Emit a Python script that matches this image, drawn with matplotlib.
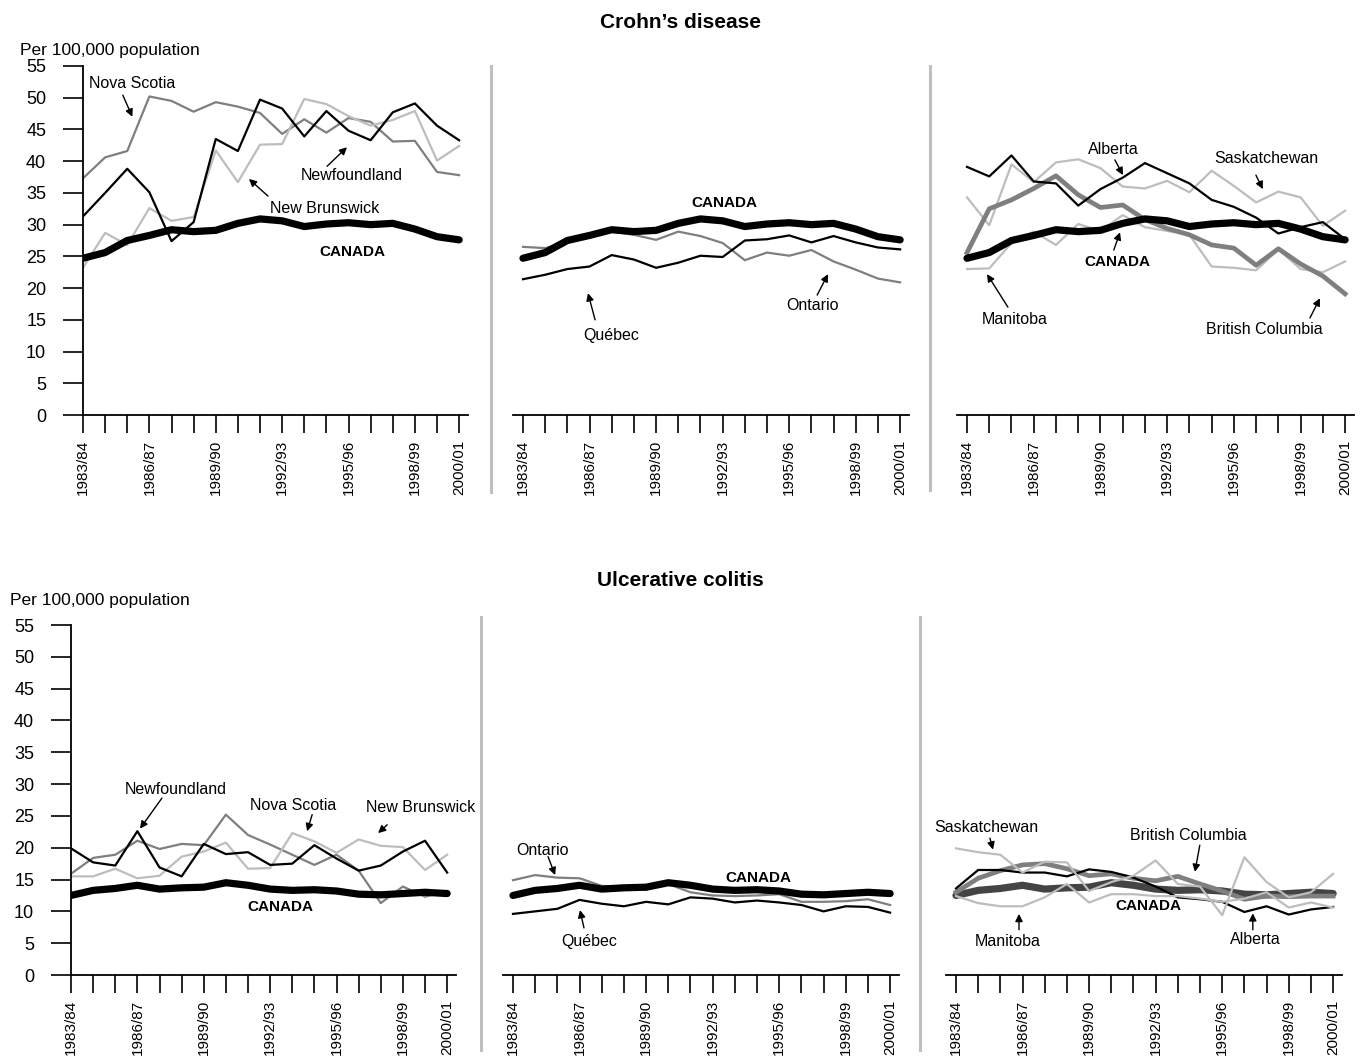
import matplotlib
matplotlib.use('Agg')
import matplotlib.pyplot as plt
from matplotlib.lines import Line2D

plt.rcParams['font.family'] = ['Liberation Sans Narrow', 'Liberation Sans', 'DejaVu Sans']

years = ['1983/84', '1984/85', '1985/86', '1986/87', '1987/88', '1988/89', '1989/90',
         '1990/91', '1991/92', '1992/93', '1993/94', '1994/95', '1995/96', '1996/97',
         '1997/98', '1998/99', '1999/00', '2000/01']
shown_years = ['1983/84', '1986/87', '1989/90', '1992/93', '1995/96', '1998/99', '2000/01']

# Crohn's disease, per 100,000
cd_canada = [24.7, 25.6, 27.5, 28.3, 29.2, 28.9, 29.1, 30.2, 30.9, 30.6, 29.7, 30.1,
             30.3, 30.0, 30.2, 29.3, 28.1, 27.6]
cd_newfoundland = [31.3, 35.0, 38.8, 35.1, 27.4, 30.4, 43.5, 41.6, 49.7, 48.3, 43.9, 47.9,
                   44.8, 43.3, 47.7, 49.1, 45.6, 43.3]
cd_nova_scotia = [37.3, 40.6, 41.6, 50.2, 49.5, 47.8, 49.3, 48.6, 47.6, 44.3, 46.6, 44.5,
                  46.8, 46.2, 43.1, 43.2, 38.3, 37.8]
cd_new_brunswick = [23.2, 28.7, 26.8, 32.6, 30.6, 31.2, 41.7, 36.7, 42.6, 42.7, 49.8, 49.0,
                    47.1, 45.6, 46.5, 47.9, 40.1, 42.4]
cd_ontario = [26.5, 26.3, 27.3, 28.2, 28.9, 28.4, 27.6, 28.9, 28.2, 27.1, 24.4, 25.6,
              25.1, 26.0, 24.2, 22.9, 21.5, 20.9]
cd_quebec = [21.4, 22.1, 23.0, 23.4, 25.2, 24.5, 23.2, 24.0, 25.1, 24.9, 27.5, 27.7,
             28.3, 27.2, 28.2, 27.2, 26.4, 26.1]
cd_alberta = [39.1, 37.6, 40.9, 36.8, 36.5, 33.0, 35.6, 37.4, 39.7, 38.1, 36.5, 33.9,
              32.8, 31.1, 28.6, 29.6, 30.4, 27.7]
cd_saskatchewan = [34.3, 29.9, 39.5, 36.7, 39.8, 40.3, 38.9, 36.0, 35.7, 36.9, 35.1, 38.5,
                   36.1, 33.5, 35.2, 34.3, 29.8, 32.2]
cd_bc = [25.6, 32.5, 33.9, 35.7, 37.7, 34.7, 32.7, 33.1, 30.8, 29.4, 28.4, 26.8,
         26.3, 23.6, 26.2, 23.8, 21.9, 19.1]
cd_manitoba = [23.0, 23.1, 27.1, 28.9, 26.8, 30.1, 29.0, 31.5, 29.6, 29.0, 28.4, 23.4,
               23.2, 22.8, 26.1, 23.0, 22.5, 24.2]

# Ulcerative colitis, per 100,000
uc_canada = [12.5, 13.3, 13.6, 14.1, 13.5, 13.7, 13.8, 14.5, 14.1, 13.5, 13.3, 13.4,
             13.2, 12.7, 12.6, 12.8, 13.0, 12.8]
uc_newfoundland = [19.9, 17.7, 17.2, 22.6, 16.9, 15.5, 20.6, 19.0, 19.3, 17.3, 17.5, 20.4,
                   18.3, 16.4, 17.2, 19.4, 21.1, 16.1]
uc_nova_scotia = [15.9, 18.4, 18.9, 21.1, 19.8, 20.6, 20.4, 25.2, 22.0, 20.5, 18.9, 17.3,
                  18.9, 16.4, 11.3, 13.9, 12.3, 13.2]
uc_new_brunswick = [15.5, 15.5, 16.7, 15.2, 15.6, 18.6, 19.4, 20.8, 16.7, 16.8, 22.3, 21.0,
                    19.2, 21.3, 20.3, 20.1, 16.5, 18.9]
uc_ontario = [14.9, 15.7, 15.3, 15.2, 14.0, 13.8, 13.4, 14.3, 13.0, 12.5, 12.4, 12.5,
              12.7, 11.5, 11.5, 11.6, 11.9, 11.0]
uc_quebec = [9.6, 10.0, 10.4, 11.8, 11.2, 10.8, 11.5, 11.1, 12.2, 12.0, 11.4, 11.7,
             11.4, 11.0, 10.0, 10.8, 10.7, 9.8]
uc_saskatchewan = [19.9, 19.3, 18.9, 16.1, 17.8, 17.7, 13.2, 14.6, 15.6, 18.0, 14.3, 13.9,
                   9.4, 18.5, 14.6, 12.2, 13.0, 15.9]
uc_manitoba = [12.4, 11.3, 10.8, 10.8, 12.2, 14.3, 11.4, 12.7, 12.7, 12.4, 12.4, 12.0,
               11.5, 12.0, 13.0, 10.6, 11.4, 10.6]
uc_bc = [13.0, 15.2, 16.4, 17.3, 17.5, 16.7, 15.6, 15.9, 15.2, 14.8, 15.5, 14.3,
         13.2, 11.9, 12.4, 12.3, 12.4, 12.4]
uc_alberta = [13.6, 16.5, 16.5, 16.1, 16.1, 15.5, 16.6, 16.2, 15.3, 13.9, 12.2, 11.9,
              11.5, 9.9, 10.8, 9.5, 10.3, 10.7]

BLACK = '#000000'
MID = '#7f7f7f'
LIGHT = '#bdbdbd'

W, H = 1366, 1063
fig = plt.figure(figsize=(W / 100, H / 100), dpi=100)


def px_axes(left, right, top, bottom):
    return fig.add_axes([left / W, 1 - bottom / H, (right - left) / W, (bottom - top) / H])


def setup(ax, x_lo, with_y):
    ax.set_xlim(x_lo, 17.4)
    ax.set_ylim(0, 55)
    ax.patch.set_alpha(0)
    for s in ['top', 'right']:
        ax.spines[s].set_visible(False)
    ax.spines['bottom'].set_linewidth(1.3)
    ax.set_xticks(range(len(years)))
    ax.set_xticklabels([y if y in shown_years else '' for y in years],
                       rotation=90, fontsize=11)
    ax.tick_params(axis='x', direction='out', length=13, width=1.2, pad=5)
    if with_y:
        ax.spines['left'].set_linewidth(1.3)
        ax.set_yticks(range(0, 56, 5))
        ax.tick_params(axis='y', direction='out', length=14.5, width=1.2, pad=12,
                       labelsize=13)
    else:
        ax.spines['left'].set_visible(False)
        ax.set_yticks([])


def arrow(ax, tail, head):
    ax.annotate('', xy=head, xytext=tail, annotation_clip=False,
                arrowprops=dict(arrowstyle='-|>', color='black', lw=1.0,
                                mutation_scale=11, shrinkA=0, shrinkB=0))


def label(ax, x, y, s, bold=False):
    ax.text(x, y, s, ha='center', va='center', fontsize=11 if bold else 11.5,
            fontweight='bold' if bold else 'normal', clip_on=False)


x = list(range(len(years)))
thin = 1.6
canada_lw = 5.2

# ---- Crohn's disease row ----
top, bot = 66, 415
a1 = px_axes(83, 468, top, bot)
setup(a1, 0, True)
a1.plot(x, cd_nova_scotia, color=MID, lw=thin)
a1.plot(x, cd_new_brunswick, color=LIGHT, lw=thin)
a1.plot(x, cd_newfoundland, color=BLACK, lw=thin)
a1.plot(x, cd_canada, color=BLACK, lw=canada_lw, solid_capstyle='round')
label(a1, 2.2, 52.3, 'Nova Scotia')
arrow(a1, (1.8, 50.4), (2.23, 47.0))
label(a1, 12.16, 37.7, 'Newfoundland')
arrow(a1, (11.03, 39.2), (11.93, 42.2))
label(a1, 10.94, 32.6, 'New Brunswick')
arrow(a1, (8.36, 34.5), (7.5, 37.2))
label(a1, 12.16, 25.7, 'CANADA', bold=True)

a2 = px_axes(513, 909, top, bot)
setup(a2, -0.45, False)
a2.plot(x, cd_ontario, color=MID, lw=thin)
a2.plot(x, cd_quebec, color=BLACK, lw=thin)
a2.plot(x, cd_canada, color=BLACK, lw=canada_lw, solid_capstyle='round')
label(a2, 9.1, 33.4, 'CANADA', bold=True)
label(a2, 3.97, 12.6, 'Québec')
arrow(a2, (3.25, 15.0), (2.93, 19.2))
label(a2, 13.03, 17.3, 'Ontario')
arrow(a2, (13.26, 18.9), (13.75, 22.2))

a3 = px_axes(957, 1354, top, bot)
setup(a3, -0.45, False)
a3.plot(x, cd_saskatchewan, color=LIGHT, lw=thin)
a3.plot(x, cd_manitoba, color=LIGHT, lw=thin)
a3.plot(x, cd_bc, color=MID, lw=3.4)
a3.plot(x, cd_alberta, color=BLACK, lw=thin)
a3.plot(x, cd_canada, color=BLACK, lw=canada_lw, solid_capstyle='round')
label(a3, 6.56, 41.9, 'Alberta')
arrow(a3, (6.65, 40.2), (7.01, 37.8))
label(a3, 13.44, 40.5, 'Saskatchewan')
arrow(a3, (12.99, 37.8), (13.3, 35.6))
label(a3, 6.74, 24.1, 'CANADA', bold=True)
arrow(a3, (6.6, 26.0), (6.88, 28.8))
label(a3, 2.16, 15.1, 'Manitoba')
arrow(a3, (1.84, 17.0), (0.9, 22.2))
label(a3, 13.35, 13.4, 'British Columbia')
arrow(a3, (15.42, 15.3), (15.87, 18.4))

# ---- Ulcerative colitis row ----
top, bot = 625, 975
b1 = px_axes(71, 456, top, bot)
setup(b1, 0, True)
b1.plot(x, uc_nova_scotia, color=MID, lw=thin)
b1.plot(x, uc_new_brunswick, color=LIGHT, lw=thin)
b1.plot(x, uc_newfoundland, color=BLACK, lw=thin)
b1.plot(x, uc_canada, color=BLACK, lw=canada_lw, solid_capstyle='round')
label(b1, 4.75, 29.2, 'Newfoundland')
arrow(b1, (4.11, 27.8), (3.12, 23.0))
label(b1, 10.04, 26.6, 'Nova Scotia')
arrow(b1, (10.9, 25.2), (10.67, 22.6))
label(b1, 15.82, 26.3, 'New Brunswick')
arrow(b1, (14.29, 23.6), (13.88, 22.3))
label(b1, 9.45, 10.7, 'CANADA', bold=True)

b2 = px_axes(503, 899, top, bot)
setup(b2, -0.45, False)
b2.plot(x, uc_ontario, color=MID, lw=thin)
b2.plot(x, uc_quebec, color=BLACK, lw=thin)
b2.plot(x, uc_canada, color=BLACK, lw=canada_lw, solid_capstyle='round')
label(b2, 1.31, 19.5, 'Ontario')
arrow(b2, (1.58, 18.6), (1.9, 15.7))
label(b2, 11.06, 15.3, 'CANADA', bold=True)
label(b2, 3.43, 5.3, 'Québec')
arrow(b2, (3.2, 7.4), (3.02, 10.2))

b3 = px_axes(946, 1342, top, bot)
setup(b3, -0.45, False)
b3.plot(x, uc_canada, color='#444444', lw=canada_lw, solid_capstyle='round')
b3.plot(x, uc_bc, color=MID, lw=3.4)
b3.plot(x, uc_alberta, color=BLACK, lw=thin)
b3.plot(x, uc_saskatchewan, color=LIGHT, lw=thin)
b3.plot(x, uc_manitoba, color=LIGHT, lw=thin)
label(b3, 1.35, 23.1, 'Saskatchewan')
arrow(b3, (1.53, 21.5), (1.67, 19.7))
label(b3, 10.45, 22.0, 'British Columbia')
arrow(b3, (10.99, 20.4), (10.77, 16.2))
label(b3, 8.65, 10.8, 'CANADA', bold=True)
label(b3, 2.34, 5.3, 'Manitoba')
arrow(b3, (2.84, 7.1), (2.84, 9.6))
label(b3, 13.51, 5.5, 'Alberta')
arrow(b3, (13.38, 7.1), (13.38, 9.7))

# titles and axis captions
fig.text(680 / W, 1 - 22 / H, 'Crohn\u2019s disease', ha='center', va='center',
         fontsize=15, fontweight='bold')
fig.text(680 / W, 1 - 580 / H, 'Ulcerative colitis', ha='center', va='center',
         fontsize=15, fontweight='bold')
fig.text(20 / W, 1 - 50 / H, 'Per 100,000 population', ha='left', va='center', fontsize=12.5)
fig.text(10 / W, 1 - 600 / H, 'Per 100,000 population', ha='left', va='center', fontsize=12.5)

# grey separators between panels
for xs, y0, y1 in [(491, 66, 492), (930, 66, 490), (481, 617, 1050), (920, 617, 1050)]:
    fig.add_artist(Line2D([xs / W, xs / W], [1 - y0 / H, 1 - y1 / H],
                          color='#bfbfbf', lw=2.2))

fig.savefig('out.png', dpi=100)
